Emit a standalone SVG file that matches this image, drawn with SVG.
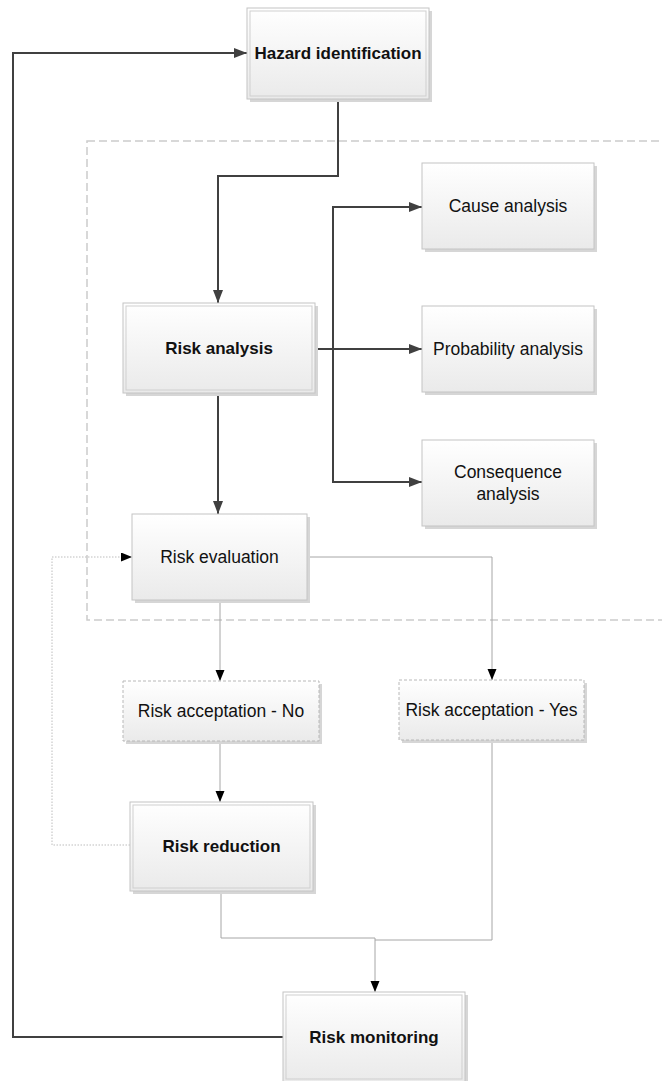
<svg xmlns="http://www.w3.org/2000/svg" width="662" height="1081" viewBox="0 0 662 1081">
<defs>
<linearGradient id="g" x1="0" y1="0" x2="0" y2="1">
<stop offset="0" stop-color="#ffffff"/>
<stop offset="1" stop-color="#eaeaea"/>
</linearGradient>
<marker id="ad" markerUnits="userSpaceOnUse" markerWidth="14" markerHeight="10" refX="13" refY="5" orient="auto">
<path d="M0,0 L13,5 L0,10 z" fill="#404040"/>
</marker>
<marker id="at" markerUnits="userSpaceOnUse" markerWidth="12" markerHeight="10" refX="11" refY="4.5" orient="auto">
<path d="M0,0 L11,4.5 L0,9 z" fill="#000"/>
</marker>
</defs>
<style>
.sh{fill:#d6d6d6;}
.bx{fill:url(#g);stroke:#c4c4c4;stroke-width:1;}
.in{fill:none;stroke:#cfcfcf;stroke-width:1;}
.db{fill:url(#g);stroke:#b8b8b8;stroke-width:1;stroke-dasharray:3 2;}
.b{font-family:"Liberation Sans",Arial,sans-serif;font-weight:bold;font-size:17px;fill:#111;text-anchor:middle;}
.r{font-family:"Liberation Sans",Arial,sans-serif;font-size:17.5px;fill:#111;text-anchor:middle;}
.dk{fill:none;stroke:#404040;stroke-width:2;}
.tn{fill:none;stroke:#a6a6a6;stroke-width:1;}
.dt{fill:none;stroke:#bdbdbd;stroke-width:1;stroke-dasharray:1.5 1.5;}
.cont{fill:none;stroke:#cccccc;stroke-width:1.5;stroke-dasharray:8 4;}
</style>
<rect class="cont" x="87" y="141" width="620" height="479"/>
<g id="connectors">
<path class="dk" d="M283,1037 H13 V53 H247" marker-end="url(#ad)"/>
<path class="dk" d="M338,99 V176 H218 V303" marker-end="url(#ad)"/>
<path class="dk" d="M315,349 H422" marker-end="url(#ad)"/>
<path class="dk" d="M333,349 V207 H422" marker-end="url(#ad)"/>
<path class="dk" d="M333,349 V482 H422" marker-end="url(#ad)"/>
<path class="dk" d="M218,393 V514" marker-end="url(#ad)"/>
<path class="tn" d="M220,600 V681" marker-end="url(#at)"/>
<path class="tn" d="M307,557 H492 V680" marker-end="url(#at)"/>
<path class="tn" d="M220,741 V802" marker-end="url(#at)"/>
<path class="dt" d="M130,845 H52 V557 H132" marker-end="url(#at)"/>
<path class="tn" d="M221,891 V938 H375 V992" marker-end="url(#at)"/>
<path class="tn" d="M492,740 V940 H375"/>
</g>
<g id="hazard">
<rect class="sh" x="250" y="11" width="182" height="91"/>
<rect class="bx" x="247" y="8" width="182" height="91"/>
<rect class="in" x="250" y="11" width="176" height="85"/>
<text class="b" x="338" y="59">Hazard identification</text>
</g>
<g id="risk-analysis">
<rect class="sh" x="126" y="306" width="192" height="90"/>
<rect class="bx" x="123" y="303" width="192" height="90"/>
<rect class="in" x="126" y="306" width="186" height="84"/>
<text class="b" x="219" y="354">Risk analysis</text>
</g>
<g id="cause">
<rect class="sh" x="425" y="166" width="172" height="86"/>
<rect class="bx" x="422" y="163" width="172" height="86"/>
<text class="r" x="508" y="212">Cause analysis</text>
</g>
<g id="probability">
<rect class="sh" x="425" y="309" width="172" height="86"/>
<rect class="bx" x="422" y="306" width="172" height="86"/>
<text class="r" x="508" y="355">Probability analysis</text>
</g>
<g id="consequence">
<rect class="sh" x="425" y="443" width="172" height="86"/>
<rect class="bx" x="422" y="440" width="172" height="86"/>
<text class="r" x="508" y="478">Consequence</text>
<text class="r" x="508" y="500">analysis</text>
</g>
<g id="risk-evaluation">
<rect class="sh" x="135" y="517" width="175" height="86"/>
<rect class="bx" x="132" y="514" width="175" height="86"/>
<text class="r" x="219.5" y="563">Risk evaluation</text>
</g>
<g id="accept-no">
<rect class="sh" x="126" y="684" width="196" height="60"/>
<rect class="db" x="123" y="681" width="196" height="60"/>
<text class="r" x="221" y="717">Risk acceptation - No</text>
</g>
<g id="accept-yes">
<rect class="sh" x="402" y="683" width="185" height="60"/>
<rect class="db" x="399" y="680" width="185" height="60"/>
<text class="r" x="491.5" y="716">Risk acceptation - Yes</text>
</g>
<g id="risk-reduction">
<rect class="sh" x="133" y="805" width="183" height="89"/>
<rect class="bx" x="130" y="802" width="183" height="89"/>
<rect class="in" x="133" y="805" width="177" height="83"/>
<text class="b" x="221.5" y="852">Risk reduction</text>
</g>
<g id="risk-monitoring">
<rect class="sh" x="286" y="995" width="182" height="90"/>
<rect class="bx" x="283" y="992" width="182" height="90"/>
<rect class="in" x="286" y="995" width="176" height="84"/>
<text class="b" x="374" y="1043">Risk monitoring</text>
</g>
</svg>
